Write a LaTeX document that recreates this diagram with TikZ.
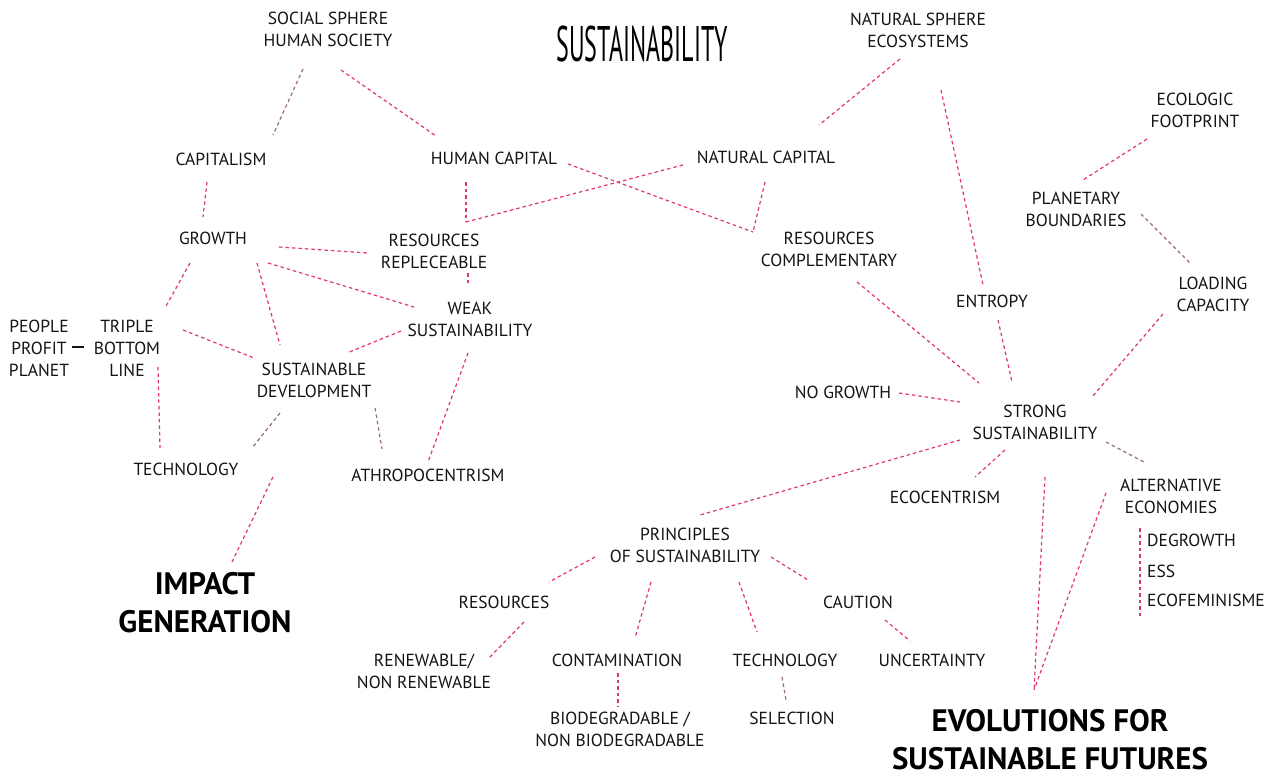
\documentclass[tikz,border=0pt]{standalone}
\usepackage{fontspec}
\setmainfont{PT Sans}
\usetikzlibrary{calc}

\definecolor{linkpink}{HTML}{E2376E}
\definecolor{linkdim}{HTML}{9A6C7C}
\definecolor{inkgray}{HTML}{141414}

\tikzset{
  lbl/.style={text=inkgray, align=center, inner sep=0pt, font=\fontsize{17.5}{22}\selectfont},
  big/.style={text=black, align=center, inner sep=0pt, font=\bfseries\fontsize{31}{38}\selectfont},
  link/.style={linkpink, line width=1.2pt, dash pattern=on 3.5pt off 3pt},
  dimlink/.style={link, linkdim},
}

\begin{document}
\begin{tikzpicture}[x=1pt, y=-1pt]
  \useasboundingbox[fill=white] (0,0) rectangle (1276,776);

  % titles
  \node[text=black, inner sep=0pt] (title) at (642,44) {\scalebox{0.48}[1]{\fontsize{50}{50}\selectfont SUSTAINABILITY}};
  \node[big] (impact) at (205,603) {IMPACT\\GENERATION};
  \node[big] (evol) at (1050,740) {EVOLUTIONS FOR\\SUSTAINABLE FUTURES};

  % top row
  \node[lbl] (social) at (328,29) {SOCIAL SPHERE\\HUMAN SOCIETY};
  \node[lbl] (natsph) at (918,30) {NATURAL SPHERE\\ECOSYSTEMS};
  \node[lbl] (ecofoot) at (1195,110) {ECOLOGIC\\FOOTPRINT};
  \node[lbl] (capital) at (221,159) {CAPITALISM};
  \node[lbl] (humcap) at (494,158) {HUMAN CAPITAL};
  \node[lbl] (natcap) at (766,157) {NATURAL CAPITAL};
  \node[lbl] (planet) at (1076,209) {PLANETARY\\BOUNDARIES};
  \node[lbl] (growth) at (213,238) {GROWTH};
  \node[lbl] (resrep) at (434,251) {RESOURCES\\REPLECEABLE};
  \node[lbl] (rescomp) at (829,249) {RESOURCES\\COMPLEMENTARY};
  \node[lbl] (loading) at (1213,294) {LOADING\\CAPACITY};
  \node[lbl] (entropy) at (992,301) {ENTROPY};

  % weak side
  \node[lbl] (weak) at (470,319) {WEAK\\SUSTAINABILITY};
  \node[lbl] (people) at (39,348) {PEOPLE\\PROFIT\\PLANET};
  \node[lbl] (triple) at (127,348) {TRIPLE\\BOTTOM\\LINE};
  \node[lbl] (sustdev) at (314,380) {SUSTAINABLE\\DEVELOPMENT};
  \node[lbl] (techa) at (186,469) {TECHNOLOGY};
  \node[lbl] (athro) at (428,475) {ATHROPOCENTRISM};

  % strong side
  \node[lbl] (nogrowth) at (843,392) {NO GROWTH};
  \node[lbl] (strong) at (1035,422) {STRONG\\SUSTAINABILITY};
  \node[lbl] (ecocen) at (945,497) {ECOCENTRISM};
  \node[lbl] (altern) at (1171,496) {ALTERNATIVE\\ECONOMIES};
  \node[lbl, anchor=west] (degrowth) at (1147,540) {DEGROWTH};
  \node[lbl, anchor=west] (ess) at (1147,571) {ESS};
  \node[lbl, anchor=west] (ecofem) at (1147,600) {ECOFEMINISME};

  % principles
  \node[lbl] (princ) at (685,545) {PRINCIPLES\\OF SUSTAINABILITY};
  \node[lbl] (resour) at (504,602) {RESOURCES};
  \node[lbl] (caution) at (858,602) {CAUTION};
  \node[lbl] (renew) at (424,671) {RENEWABLE/\\NON RENEWABLE};
  \node[lbl] (contam) at (617,660) {CONTAMINATION};
  \node[lbl] (techb) at (785,660) {TECHNOLOGY};
  \node[lbl] (uncert) at (932,660) {UNCERTAINTY};
  \node[lbl] (biodeg) at (620,729) {BIODEGRADABLE /\\NON BIODEGRADABLE};
  \node[lbl] (select) at (792,718) {SELECTION};

  % connectors
  \draw[dimlink] ($(social)+(-25,40)$) -- ($(capital)+(52,-24)$);
  \draw[link] ($(social)+(13,41)$) -- ($(humcap)+(-58,-22)$);
  \draw[link] ($(natsph)+(-18,29)$) -- ($(natcap)+(53,-32)$);
  \draw[link] ($(natsph)+(23,60)$) -- ($(entropy)+(-9,-16)$);
  \draw[link] ($(capital)+(-14,23)$) -- ($(growth)+(-10,-21)$);
  \draw[link] ($(humcap)+(-28,24)$) -- ($(resrep)+(32,-29)$);
  \draw[link] ($(natcap)+(-83,8)$) -- ($(resrep)+(32,-29)$);
  \draw[link] ($(humcap)+(74,6)$) -- ($(rescomp)+(-76,-17)$);
  \draw[link] ($(natcap)+(-1,25)$) -- ($(rescomp)+(-76,-17)$);
  \draw[link] ($(growth)+(66,9)$) -- ($(resrep)+(-66,2)$);
  \draw[link] ($(growth)+(-23,25)$) -- ($(triple)+(38,-40)$);
  \draw[link] ($(growth)+(44,25)$) -- ($(sustdev)+(-34,-35)$);
  \draw[link] ($(growth)+(55,25)$) -- ($(weak)+(-56,-12)$);
  \draw[link] ($(triple)+(56,-18)$) -- ($(sustdev)+(-60,-22)$);
  \draw[link] ($(weak)+(-69,12)$) -- ($(sustdev)+(33,-27)$);
  \draw[link] ($(resrep)+(34,22)$) -- ($(weak)+(-2,-34)$);
  \draw[link] ($(weak)+(-2,34)$) -- ($(athro)+(0,-13)$);
  \draw[link] ($(triple)+(31,19)$) -- ($(techa)+(-26,-21)$);
  \draw[dimlink] ($(sustdev)+(-34,33)$) -- ($(techa)+(66,-21)$);
  \draw[dimlink] ($(sustdev)+(61,28)$) -- ($(athro)+(-46,-26)$);
  \draw[link] ($(techa)+(87,8)$) -- ($(impact)+(27,-41)$);
  \draw[link] ($(ecofoot)+(-48,29)$) -- ($(planet)+(7,-29)$);
  \draw[dimlink] ($(planet)+(65,5)$) -- ($(loading)+(-23,-31)$);
  \draw[link] ($(rescomp)+(28,33)$) -- ($(strong)+(-56,-39)$);
  \draw[link] ($(entropy)+(6,19)$) -- ($(strong)+(-23,-40)$);
  \draw[link] ($(loading)+(-50,20)$) -- ($(strong)+(57,-25)$);
  \draw[link] ($(nogrowth)+(56,1)$) -- ($(strong)+(-75,-20)$);
  \draw[link] ($(strong)+(-75,18)$) -- ($(princ)+(15,-30)$);
  \draw[link] ($(strong)+(-30,28)$) -- ($(ecocen)+(30,-20)$);
  \draw[dimlink] ($(strong)+(71,20)$) -- ($(altern)+(-27,-34)$);
  \draw[link] ($(strong)+(10,55)$) -- ($(evol)+(-16,-50)$);
  \draw[link] ($(altern)+(-65,-3)$) -- ($(evol)+(-16,-50)$);
  \draw[link] ($(altern)+(-31,32)$) -- ($(ecofem.west)+(-7,17)$);
  \draw[link] ($(princ)+(-90,12)$) -- ($(resour)+(45,-20)$);
  \draw[link] ($(princ)+(-34,37)$) -- ($(contam)+(18,-22)$);
  \draw[link] ($(princ)+(54,37)$) -- ($(techb)+(-28,-28)$);
  \draw[link] ($(princ)+(86,12)$) -- ($(caution)+(-50,-22)$);
  \draw[link] ($(resour)+(20,20)$) -- ($(renew)+(65,-13)$);
  \draw[link] ($(caution)+(27,18)$) -- ($(uncert)+(-22,-19)$);
  \draw[link] ($(contam)+(1,13)$) -- ($(biodeg)+(-2,-23)$);
  \draw[dimlink] ($(techb)+(-3,17)$) -- ($(select)+(-6,-18)$);
  \draw[inkgray, line width=1.6pt] ($(people)+(33,-1)$) -- ($(triple)+(-43,-1)$);
\end{tikzpicture}
\end{document}
